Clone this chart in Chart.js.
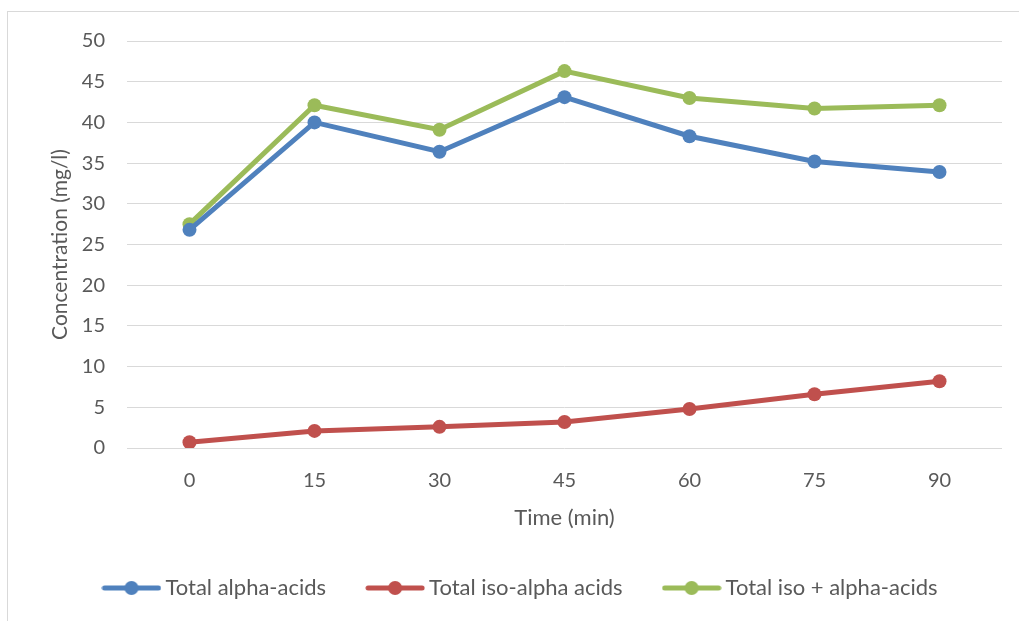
<!DOCTYPE html>
<html>
<head>
<meta charset="utf-8">
<script src="https://cdn.jsdelivr.net/npm/chart.js@4"></script>
<style>
  body { margin: 0; background: #fff; overflow: hidden; }
  #frame {
    position: absolute; left: 7px; top: 11px; width: 1030px; height: 630px;
    border: 1px solid #d9d9d9; box-sizing: border-box;
  }
  #chart { position: absolute; left: 0; top: 0; }
</style>
</head>
<body>
<div id="frame"></div>
<canvas id="chart" width="1019" height="621"></canvas>
<script>
// data
const timeLabels = ["0", "15", "30", "45", "60", "75", "90"];
const alphaAcids = [26.8, 40.0, 36.4, 43.1, 38.3, 35.2, 33.9];
const isoAlphaAcids = [0.7, 2.1, 2.6, 3.2, 4.8, 6.6, 8.2];
const isoPlusAlpha = [27.5, 42.1, 39.1, 46.3, 43.0, 41.7, 42.1];

const textColor = "#595959";
const fontFamily = "Lato, 'Open Sans', sans-serif";

// little line + dot picture for the legend
function legendMarker(color) {
  const c = document.createElement("canvas");
  c.width = 60;
  c.height = 18;
  const ctx = c.getContext("2d");
  ctx.strokeStyle = color;
  ctx.lineWidth = 5;
  ctx.lineCap = "round";
  ctx.beginPath();
  ctx.moveTo(3, 9);
  ctx.lineTo(57, 9);
  ctx.stroke();
  ctx.fillStyle = color;
  ctx.beginPath();
  ctx.arc(30, 9, 7, 0, Math.PI * 2);
  ctx.fill();
  return c;
}

function series(label, data, color) {
  return {
    label: label,
    data: data,
    borderColor: color,
    backgroundColor: color,
    borderWidth: 5,
    pointRadius: 7,
    pointHoverRadius: 7,
    pointBorderWidth: 0,
    tension: 0,
    marker: legendMarker(color),
  };
}

new Chart(document.getElementById("chart"), {
  type: "line",
  data: {
    labels: timeLabels,
    datasets: [
      series("Total alpha-acids", alphaAcids, "#4f81bd"),
      series("Total iso-alpha acids", isoAlphaAcids, "#c0504d"),
      series("Total iso + alpha-acids", isoPlusAlpha, "#9bbb59"),
    ],
  },
  options: {
    responsive: false,
    animation: false,
    layout: { padding: { left: 44, top: 41, right: 17, bottom: 12 } },
    plugins: {
      tooltip: { enabled: false },
      legend: {
        position: "bottom",
        labels: {
          usePointStyle: true,
          pointStyleWidth: 46,
          padding: 46,
          color: textColor,
          font: { family: fontFamily, size: 22 },
          generateLabels: function (chart) {
            const items = Chart.defaults.plugins.legend.labels.generateLabels(chart);
            items.forEach((item) => {
              item.pointStyle = chart.data.datasets[item.datasetIndex].marker;
            });
            return items;
          },
        },
      },
    },
    scales: {
      x: {
        offset: true,
        grid: { display: false },
        border: { display: false },
        ticks: {
          color: textColor,
          padding: 13,
          font: { family: fontFamily, size: 20 },
        },
        title: {
          display: true,
          text: "Time (min)",
          color: textColor,
          padding: { top: 4, bottom: 0 },
          font: { family: fontFamily, size: 22 },
        },
        afterFit: (scale) => {
          scale.height = 83;
        },
      },
      y: {
        min: 0,
        max: 50,
        grid: { color: "#d9d9d9", lineWidth: 1, drawTicks: false },
        border: { display: false },
        ticks: {
          stepSize: 5,
          color: textColor,
          padding: 22,
          font: { family: fontFamily, size: 20 },
        },
        title: {
          display: true,
          text: "Concentration (mg/l)",
          color: textColor,
          padding: { top: 4, bottom: 4 },
          font: { family: fontFamily, size: 21 },
        },
        afterFit: (scale) => {
          scale.width = 83;
        },
      },
    },
  },
});
</script>
</body>
</html>
